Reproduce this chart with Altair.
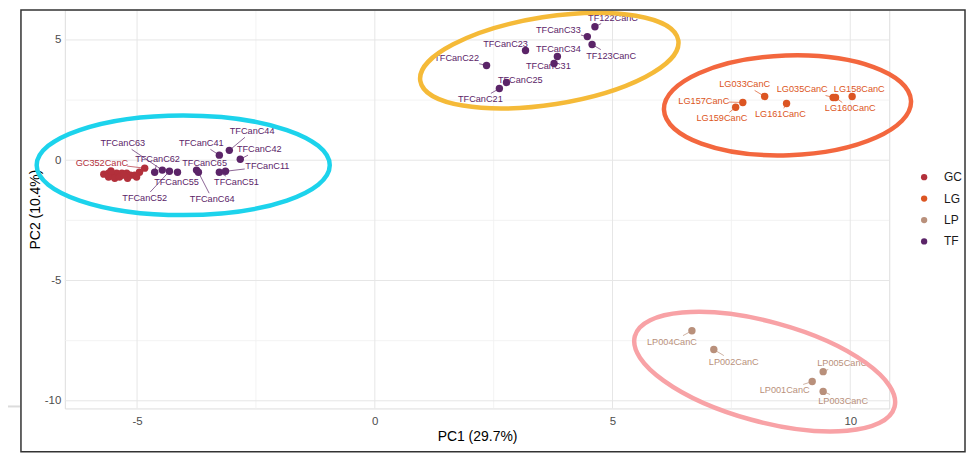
import altair as alt
import pandas as pd

# ---------------- data ----------------
groups = ["GC", "LG", "LP", "TF"]
group_colors = ["#b2303b", "#dc5522", "#b9907b", "#5b2468"]

# labelled samples
names = [
    "GC352CanC",
    "TFCanC63", "TFCanC62", "TFCanC52", "TFCanC55", "TFCanC65", "TFCanC64",
    "TFCanC41", "TFCanC44", "TFCanC42", "TFCanC51", "TFCanC11",
    "TF122CanC", "TFCanC33", "TF123CanC", "TFCanC23", "TFCanC34", "TFCanC31",
    "TFCanC22", "TFCanC25", "TFCanC21",
    "LG033CanC", "LG157CanC", "LG159CanC", "LG035CanC", "LG161CanC", "LG158CanC", "LG160CanC",
    "LP004CanC", "LP002CanC", "LP005CanC", "LP001CanC", "LP003CanC",
]
name_group = ["GC"] + ["TF"] * 20 + ["LG"] * 7 + ["LP"] * 5
pc1 = [
    -4.84,
    -4.47, -4.63, -4.32, -4.15, -3.75, -3.71,
    -3.27, -3.06, -2.83, -3.27, -3.14,
    4.63, 4.47, 4.57, 3.17, 3.84, 3.77,
    2.35, 2.77, 2.62,
    8.20, 7.74, 7.59, 9.64, 8.66, 10.04, 9.69,
    6.67, 7.13, 9.43, 9.20, 9.43,
]
pc2 = [
    -0.33,
    -0.41, -0.50, -0.46, -0.50, -0.41, -0.50,
    0.21, 0.41, 0.04, -0.50, -0.46,
    5.55, 5.14, 4.81, 4.56, 4.31, 4.02,
    3.94, 3.23, 2.98,
    2.65, 2.40, 2.20, 2.61, 2.36, 2.65, 2.61,
    -7.09, -7.87, -8.79, -9.20, -9.61,
]
label_x = [
    -5.74,
    -5.30, -4.57, -4.84, -4.17, -3.58, -3.42,
    -3.65, -2.58, -2.43, -2.91, -2.26,
    5.01, 3.86, 4.97, 2.75, 3.86, 3.65,
    1.72, 3.06, 2.22,
    7.78, 6.92, 7.30, 8.99, 8.53, 10.19, 10.00,
    6.25, 7.55, 9.83, 8.62, 9.85,
]
label_y = [
    -0.12,
    0.70, 0.04, -1.57, -0.91, -0.12, -1.62,
    0.70, 1.20, 0.46, -0.91, -0.25,
    5.93, 5.43, 4.35, 4.85, 4.64, 3.90,
    4.23, 3.32, 2.53,
    3.15, 2.45, 1.74, 2.94, 1.91, 2.98, 2.15,
    -7.54, -8.37, -8.45, -9.57, -9.99,
]

# unlabelled GC samples (dense cluster)
gc_pc1 = [-5.70, -5.60, -5.51, -5.43, -5.32, -5.22, -5.14, -5.05, -4.95,
          -5.60, -5.47, -5.37, -5.20, -5.01, -5.55, -5.28]
gc_pc2 = [-0.58, -0.54, -0.66, -0.54, -0.54, -0.54, -0.62, -0.62, -0.50,
          -0.70, -0.75, -0.70, -0.75, -0.70, -0.45, -0.62]

x_ticks = [-5, 0, 5, 10]
y_ticks = [-10, -5, 0, 5]
x_minor = [-2.5, 2.5, 7.5]
y_minor = [-7.5, -2.5, 2.5]

# hand-drawn ellipses (centres in data units)
ell_cx = [-4.03, 3.67, 8.68, 8.20]
ell_cy = [-0.21, 4.14, 2.28, -8.79]
ell_colors = ["#1cd3ec", "#f5ba38", "#f3673e", "#f8a2a6"]

# ---------------- layout ----------------
W, H = 827, 400
XD = [-6.52, 10.82]
YD = [-10.319, 6.258]
kx = W / (XD[1] - XD[0])
ky = H / (YD[1] - YD[0])
FONT = "Liberation Sans"

xs = alt.Scale(domain=XD, nice=False, zero=False)
ys = alt.Scale(domain=YD, nice=False, zero=False)
cs = alt.Scale(domain=groups, range=group_colors)

ax_x = alt.Axis(values=x_ticks, grid=False, ticks=False, tickSize=0, domain=False,
                labelPadding=7, labelExpr="datum.value + ''",
                labelFont=FONT, labelFontSize=11.5, labelColor="#4d4d4d",
                titleFont=FONT, titleFontSize=14, titleFontWeight="normal",
                titleColor="#000000", titlePadding=3)
ax_y = alt.Axis(values=y_ticks, grid=False, ticks=False, tickSize=0, domain=False,
                labelPadding=4, labelExpr="datum.value + ''",
                labelFont=FONT, labelFontSize=11.5, labelColor="#4d4d4d",
                titleFont=FONT, titleFontSize=14, titleFontWeight="normal",
                titleColor="#000000", titlePadding=2)
XT = "PC1 (29.7%)"
YT = "PC2 (10.4%)"


def X(field):
    return alt.X(field, scale=xs, axis=ax_x, title=XT)


def Y(field):
    return alt.Y(field, scale=ys, axis=ax_y, title=YT)


pts = pd.DataFrame({
    "pc1": pc1 + gc_pc1,
    "pc2": pc2 + gc_pc2,
    "group": name_group + ["GC"] * len(gc_pc1),
})
labels = pd.DataFrame({"name": names, "group": name_group, "lx": label_x, "ly": label_y})


def seg_end(px, py, lx, ly, name):
    dx = (px - lx) * kx
    dy = -(py - ly) * ky
    hw = len(name) * 2.65 + 1.5
    hh = 6.0
    if abs(dx) <= hw and abs(dy) <= hh:
        return None
    t = min(hw / abs(dx) if dx else 1e9, hh / abs(dy) if dy else 1e9)
    ex, ey = dx * t, dy * t
    if ((dx - ex) ** 2 + (dy - ey) ** 2) ** 0.5 < 4:
        return None
    return lx + ex / kx, ly - ey / ky


seg_rows = []
for n, g, px, py, lx, ly in zip(names, name_group, pc1, pc2, label_x, label_y):
    e = seg_end(px, py, lx, ly, n)
    if e is not None:
        seg_rows.append({"x": px, "y": py, "x2": e[0], "y2": e[1], "group": g})
segs = pd.DataFrame(seg_rows)

# grid
gx_major = alt.Chart(pd.DataFrame({"v": x_ticks})).mark_rule(color="#e6e6e6", strokeWidth=1).encode(
    x=X("v:Q"))
gx_minor = alt.Chart(pd.DataFrame({"v": x_minor})).mark_rule(color="#f0f0f0", strokeWidth=0.8).encode(
    x=X("v:Q"))
gy_major = alt.Chart(pd.DataFrame({"v": y_ticks})).mark_rule(color="#e6e6e6", strokeWidth=1).encode(
    y=Y("v:Q"))
gy_minor = alt.Chart(pd.DataFrame({"v": y_minor})).mark_rule(color="#f0f0f0", strokeWidth=0.8).encode(
    y=Y("v:Q"))

points = alt.Chart(pts).mark_circle(size=55, opacity=1).encode(
    x=X("pc1:Q"),
    y=Y("pc2:Q"),
    color=alt.Color("group:N", scale=cs,
                    legend=alt.Legend(title=None, orient="none", legendX=856, legendY=162,
                                      symbolType="circle", symbolSize=40, symbolStrokeWidth=0,
                                      labelFont=FONT, labelFontSize=12, labelColor="#1a1a1a",
                                      rowPadding=9.5, labelOffset=14)),
)

segments = alt.Chart(segs).mark_rule(strokeWidth=0.7).encode(
    x=X("x:Q"), y=Y("y:Q"),
    x2="x2:Q", y2="y2:Q",
    color=alt.Color("group:N", scale=cs, legend=None),
)

texts = alt.Chart(labels).mark_text(font=FONT, fontSize=9.2).encode(
    x=X("lx:Q"), y=Y("ly:Q"),
    text="name:N",
    color=alt.Color("group:N", scale=cs, legend=None),
)


def ellipse_path(r):
    k = 0.5523
    a = k * r
    return (f"M -1 0 C -1 {-a:.4f} {-k} {-r:.4f} 0 {-r:.4f} "
            f"C {k} {-r:.4f} 1 {-a:.4f} 1 0 "
            f"C 1 {a:.4f} {k} {r:.4f} 0 {r:.4f} "
            f"C {-k} {r:.4f} -1 {a:.4f} -1 0 Z")


# semi axes (px) and rotation (deg clockwise) of the hand-drawn ellipses
ell_a = [147, 131, 124, 135]
ell_b = [50, 44, 50, 50]
ell_angle = [0, 351.1, 358, 15.3]

ellipses = []
for cx, cy, col, a, b, ang in zip(ell_cx, ell_cy, ell_colors, ell_a, ell_b, ell_angle):
    ellipses.append(
        alt.Chart(pd.DataFrame({"cx": [cx], "cy": [cy]})).mark_point(
            shape=ellipse_path(b / a), size=(2 * a) ** 2, angle=ang, filled=False,
            stroke=col, strokeWidth=4.5, opacity=1,
        ).encode(x=X("cx:Q"), y=Y("cy:Q"))
    )

border = alt.Chart(pd.DataFrame({"a": [0]})).mark_rect(
    fillOpacity=0, stroke="#333333", strokeWidth=1.5
).encode(x=alt.value(-44), x2=alt.value(903), y=alt.value(0.2), y2=alt.value(443.5))

grey_line = alt.Chart(pd.DataFrame({"a": [0]})).mark_rule(
    color="#dcdcdc", strokeWidth=2
).encode(x=alt.value(-57), x2=alt.value(-45), y=alt.value(398))

chart = alt.layer(
    gx_minor, gy_minor, gx_major, gy_major, points, segments, texts, *ellipses, border, grey_line
).properties(
    width=W, height=H,
    autosize=alt.AutoSizeParams(type="none"),
    padding={"left": 57, "top": 1, "right": 77, "bottom": 44},
).configure_view(stroke="transparent", strokeWidth=0).configure(background="white")

chart.save("out.html", embed_options={"renderer": "svg", "actions": False})
